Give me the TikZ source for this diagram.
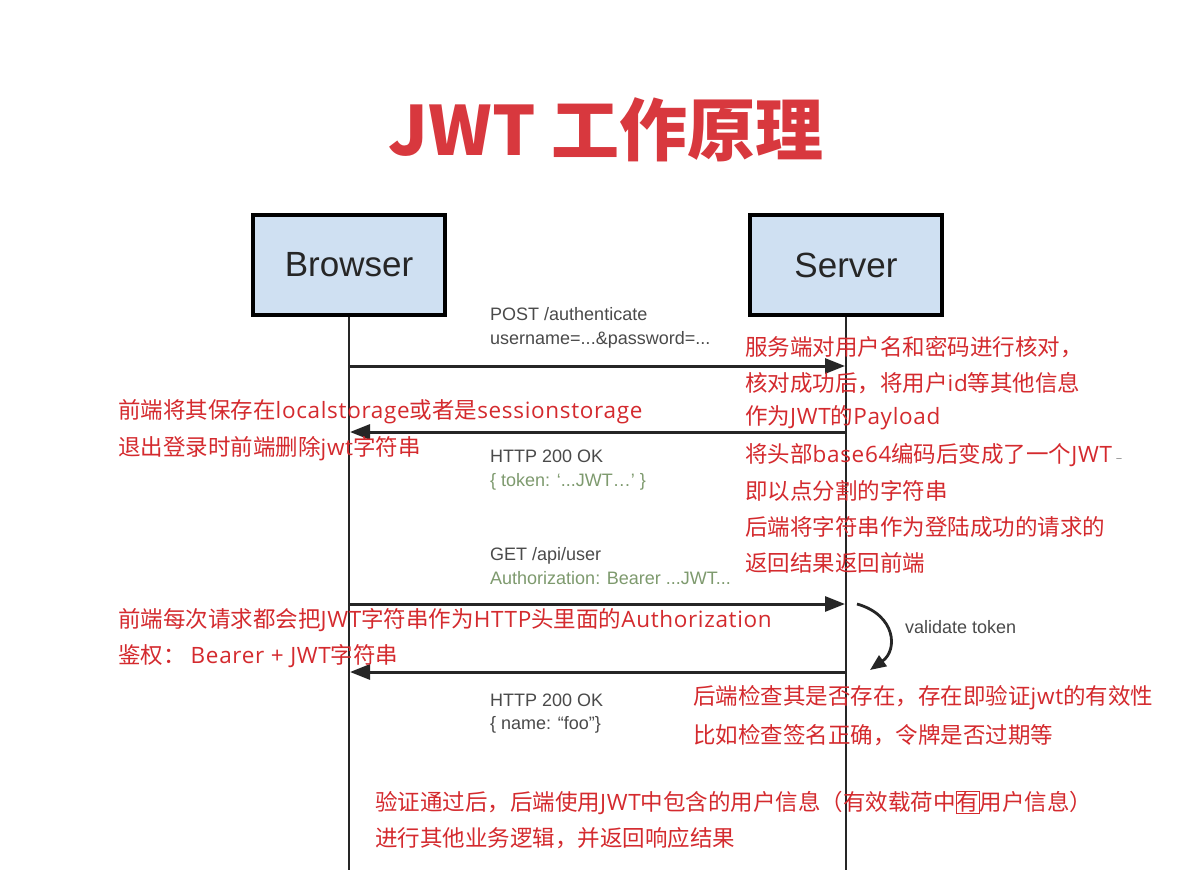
\documentclass[tikz,border=0pt]{standalone}
\usepackage{fontspec}
\setmainfont{Liberation Sans}
\newfontfamily\cjk{Noto Sans CJK SC}
\newfontfamily\latn[LetterSpace=3]{Open Sans}
\newcommand\lt[1]{{\latn #1}}
\usetikzlibrary{arrows.meta}
\definecolor{titlered}{HTML}{D8383E}
\definecolor{notered}{HTML}{D42A2E}
\definecolor{lblgray}{HTML}{4A4A4A}
\definecolor{lblgreen}{HTML}{7E9A6E}
\definecolor{boxblue}{HTML}{CFE0F2}
\tikzset{
  actor/.style={draw=black, line width=3.2pt, fill=boxblue, minimum width=192pt, minimum height=100pt, font=\fontsize{35}{40}\selectfont, text=black!85},
  life/.style={line width=2.6pt, draw=black!85},
  msg/.style={line width=3pt, draw=black!85, -{Triangle[length=20pt,width=15pt]}},
  lbl/.style={anchor=base west, inner sep=0pt, font=\fontsize{18}{20}\selectfont, text=lblgray},
  lblg/.style={lbl, text=lblgreen},
  note/.style={anchor=west, inner sep=0pt, font=\cjk\fontsize{22.5}{25}\selectfont, text=notered},
}
\begin{document}
\begin{tikzpicture}[x=1pt,y=-1pt]
\useasboundingbox[fill=white] (0,0) rectangle (1200,891);
% title
\node[font=\cjk\bfseries\fontsize{68}{72}\selectfont, text=titlered] (title) at (606,130) {JWT 工作原理};
% actors
\node[actor] (browser) at (349,265) {Browser};
\node[actor] (server) at (846,265) {Server};
\coordinate (bend) at (349,870);
\coordinate (send) at (846,870);
\draw[life] (browser.south) -- (bend);
\draw[life] (server.south) -- (send);
% message anchors
\coordinate (b1) at (349,366); \coordinate (s1) at (845,366);
\coordinate (b2) at (350,432); \coordinate (s2) at (846,432);
\coordinate (b3) at (349,604); \coordinate (s3) at (845,604);
\coordinate (b4) at (350,672); \coordinate (s4) at (846,672);
\draw[msg] (b1) -- (s1);
\draw[msg] (s2) -- (b2);
\draw[msg] (b3) -- (s3);
\draw[msg] (s4) -- (b4);
% validate loop
\coordinate (v1) at (857,604);
\coordinate (v2) at (870,670);
\draw[line width=2.8pt, draw=black!85, -{Triangle[length=16pt,width=13pt]}] (v1) .. controls (896,615) and (898,650) .. (v2);
\node[lbl, anchor=west] (vt) at (905,627) {validate token};
% message labels
\node[lbl] (l1a) at (490,320) {POST /authenticate};
\node[lbl] (l1b) at (490,344) {username=...\&password=...};
\node[lbl] (l2a) at (490,462) {HTTP 200 OK};
\node[lblg] (l2b) at (490,486) {\{ token: ‘...JWT…’ \}};
\node[lbl] (l3a) at (490,560) {GET /api/user};
\node[lblg] (l3b) at (490,584) {Authorization: Bearer ...JWT...};
\node[lbl] (l4a) at (490,706) {HTTP 200 OK};
\node[lbl] (l4b) at (490,729) {\{ name: “foo”\}};
% red notes: right block
\node[note] (r1) at (745,347) {服务端对用户名和密码进行核对，};
\node[note] (r2) at (745,383) {核对成功后，将用户\lt{id}等其他信息};
\node[note] (r3) at (745,418) {作为\lt{JWT}的\lt{Payload}};
\node[note] (r4) at (745,455) {将头部\lt{base64}编码后变成了一个\lt{JWT}\,{\color{gray}\fontsize{12}{12}\selectfont –}};
\node[note] (r5) at (745,491) {即以点分割的字符串};
\node[note] (r6) at (745,527) {后端将字符串作为登陆成功的请求的};
\node[note] (r7) at (745,563) {返回结果返回前端};
% left block 1
\node[note] (lA1) at (118,412) {前端将其保存在\lt{localstorage}或者是\lt{sessionstorage}};
\node[note] (lA2) at (118,449) {退出登录时前端删除\lt{jwt}字符串};
% left block 2
\node[note] (lB1) at (118,620) {前端每次请求都会把\lt{JWT}字符串作为\lt{HTTP}头里面的\lt{Authorization}};
\node[note] (lB2) at (118,656) {鉴权：\ \lt{Bearer + JWT}字符串};
% right block 2
\node[note] (rB1) at (693,698) {后端检查其是否存在，存在即验证\lt{jwt}的有效性};
\node[note] (rB2) at (693,735) {比如检查签名正确，令牌是否过期等};
% bottom block
\node[note] (bt1) at (375,803) {验证通过后，后端使用\lt{JWT}中包含的用户信息（有效载荷中{\setlength\fboxsep{0.3pt}\setlength\fboxrule{0.5pt}\fbox{有}}用户信息）};
\node[note] (bt2) at (375,838) {进行其他业务逻辑，并返回响应结果};
\end{tikzpicture}
\end{document}
